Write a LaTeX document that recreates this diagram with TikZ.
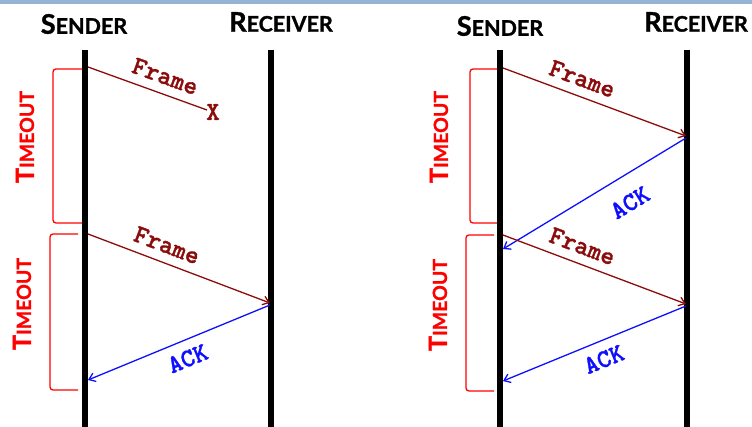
\documentclass[tikz,border=0pt]{standalone}
\usepackage{fontspec}
\usetikzlibrary{arrows.meta}
\newfontfamily\hdfont{Lato}[BoldFeatures={FakeBold=1.2}]
\newfontfamily\codefont{lmmonolt10-bold}[Extension=.otf, FakeBold=1.2]
\definecolor{barblue}{RGB}{149,179,213}
\definecolor{framered}{RGB}{140,12,12}
\definecolor{ackblue}{RGB}{15,15,255}
\definecolor{tored}{RGB}{255,0,0}
\newcommand{\smcapx}[2]{{\fontsize{27}{27}\selectfont #1}{\fontsize{21.5}{21.5}\selectfont #2}}
\newcommand{\smcapt}[2]{{\fontsize{25}{25}\selectfont #1}{\fontsize{19.5}{19.5}\selectfont #2}}
\begin{document}
\begin{tikzpicture}[x=1pt,y=-1pt,
  head/.style={font=\hdfont\bfseries, inner sep=0pt, black},
  tolabel/.style={font=\hdfont\bfseries, inner sep=0pt, tored, rotate=90},
  lifeline/.style={line width=6pt, black},
  tip/.style={-{Straight Barb[length=6pt,width=9pt]}},
  msgframe/.style={framered, line width=1.3pt},
  msgack/.style={ackblue, line width=1.3pt},
  codefnt/.style={font=\codefont\fontsize{26}{26}\selectfont},
  framelbl/.style={codefnt, framered, sloped, above=5.5pt},
  acklbl/.style={codefnt, ackblue, sloped, below=6pt},
  bracket/.style={tored, line width=1.3pt, rounded corners=3pt},
]
\useasboundingbox (0,0) rectangle (752,427);
\fill[barblue] (0,0) rectangle (752,4);

% ---------- left panel ----------
\node[head] (ls) at (84,24) {\smcapx{S}{ENDER}};
\node[head] (lr) at (281,22) {\smcapx{R}{ECEIVER}};
\coordinate (lsT) at (85,50);  \coordinate (lsB) at (85,427);
\coordinate (lrT) at (270.5,50); \coordinate (lrB) at (270.5,427);
\draw[lifeline] (lsT) -- (lsB);
\draw[lifeline] (lrT) -- (lrB);

\coordinate (lf1s) at (88,67);  \coordinate (lf1e) at (207,110);
\node[codefnt, framered, inner sep=0pt] (lx) at (213,112) {X};
\draw[msgframe] (lf1s) -- node[framelbl, pos=0.60] (lf1l) {Frame} (lf1e);

\coordinate (lf2s) at (88,234); \coordinate (lf2e) at (270,303);
\draw[msgframe, tip] (lf2s) -- node[framelbl, pos=0.40] (lf2l) {Frame} (lf2e);

\coordinate (la1s) at (270,305); \coordinate (la1e) at (88,380);
\draw[msgack, tip] (la1s) -- node[acklbl, pos=0.49] (la1l) {ACK} (la1e);

\coordinate (lb1a) at (82,69);  \coordinate (lb1b) at (53,69);
\coordinate (lb1c) at (53,223); \coordinate (lb1d) at (82,223);
\draw[bracket] (lb1a) -- (lb1b) -- (lb1c) -- (lb1d);
\coordinate (lb2a) at (78,234); \coordinate (lb2b) at (50,234);
\coordinate (lb2c) at (50,390); \coordinate (lb2d) at (78,390);
\draw[bracket] (lb2a) -- (lb2b) -- (lb2c) -- (lb2d);
\node[tolabel] (lt1) at (25,137) {\smcapt{T}{IMEOUT}};
\node[tolabel] (lt2) at (22,304) {\smcapt{T}{IMEOUT}};

% ---------- right panel ----------
\node[head] (rs) at (500,26) {\smcapx{S}{ENDER}};
\node[head] (rr) at (696,22) {\smcapx{R}{ECEIVER}};
\coordinate (rsT) at (500,50);  \coordinate (rsB) at (500,427);
\coordinate (rrT) at (687,50);  \coordinate (rrB) at (687,427);
\draw[lifeline] (rsT) -- (rsB);
\draw[lifeline] (rrT) -- (rrB);

\coordinate (rf1s) at (503,68);  \coordinate (rf1e) at (686,136);
\draw[msgframe, tip] (rf1s) -- node[framelbl, pos=0.40] (rf1l) {Frame} (rf1e);
\coordinate (ra1s) at (686,138); \coordinate (ra1e) at (503,249);
\draw[msgack, tip] (ra1s) -- node[acklbl, pos=0.38, below=8pt] (ra1l) {ACK} (ra1e);
\coordinate (rf2s) at (503,235); \coordinate (rf2e) at (686,304);
\draw[msgframe, tip] (rf2s) -- node[framelbl, pos=0.40] (rf2l) {Frame} (rf2e);
\coordinate (ra2s) at (686,306); \coordinate (ra2e) at (503,381);
\draw[msgack, tip] (ra2s) -- node[acklbl, pos=0.486] (ra2l) {ACK} (ra2e);

\coordinate (rb1a) at (497,69);  \coordinate (rb1b) at (470,69);
\coordinate (rb1c) at (470,223); \coordinate (rb1d) at (497,223);
\draw[bracket] (rb1a) -- (rb1b) -- (rb1c) -- (rb1d);
\coordinate (rb2a) at (494,235); \coordinate (rb2b) at (466,235);
\coordinate (rb2c) at (466,391); \coordinate (rb2d) at (494,391);
\draw[bracket] (rb2a) -- (rb2b) -- (rb2c) -- (rb2d);
\node[tolabel] (rt1) at (439,137) {\smcapt{T}{IMEOUT}};
\node[tolabel] (rt2) at (438,305) {\smcapt{T}{IMEOUT}};
\end{tikzpicture}
\end{document}
